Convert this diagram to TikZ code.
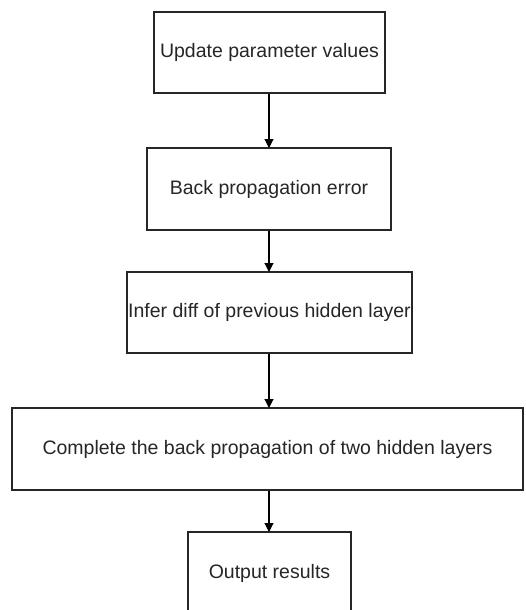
\documentclass[tikz,border=0pt]{standalone}
\usepackage{fontspec}
\setmainfont{Liberation Sans}
\usetikzlibrary{arrows.meta}
\begin{document}
\begin{tikzpicture}[x=1pt,y=-1pt,
  stepbox/.style={draw=black!85,line width=1.1pt,inner sep=0pt,font=\fontsize{19.5}{23}\selectfont,text=black!85},
  flow/.style={draw=black,line width=1.1pt,-{Triangle[width=9pt,length=9pt]}}]
\useasboundingbox (0,0) rectangle (525,610);
\clip (0,0) rectangle (525,610);
\fill[white] (0,0) rectangle (525,610);
\node[stepbox,minimum width=231pt,minimum height=81pt] (a) at (269.5,52.5) {Update parameter values};
\node[stepbox,minimum width=244pt,minimum height=82pt] (b) at (269,189) {Back propagation error};
\node[stepbox,minimum width=285pt,minimum height=81pt] (c) at (269.5,312.5) {Infer diff of previous hidden layer};
\node[stepbox,minimum width=511pt,minimum height=82pt] (d) at (267.5,449) {Complete the back propagation of two hidden layers};
\node[stepbox,minimum width=163pt,minimum height=82pt] (e) at (269.5,573) {Output results};
\draw[flow] (a.south -| 269,0) -- (269,148);
\draw[flow] (b.south -| 269,0) -- (269,272);
\draw[flow] (c.south -| 269,0) -- (269,408);
\draw[flow] (d.south -| 269,0) -- (269,532);
\end{tikzpicture}
\end{document}
